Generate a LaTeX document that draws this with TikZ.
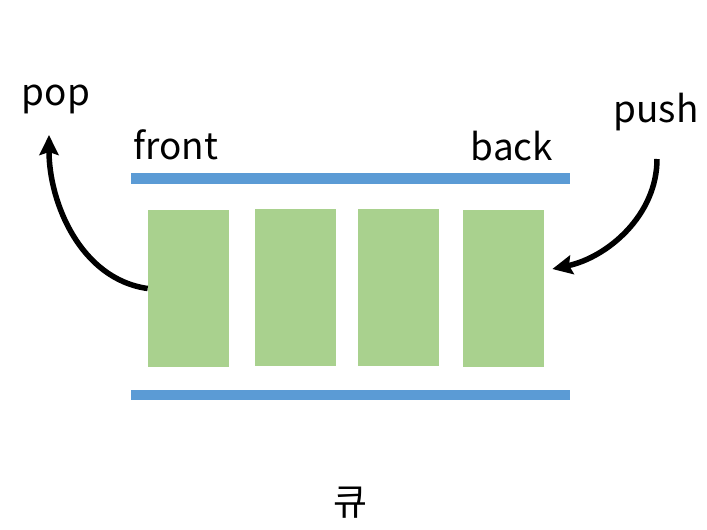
\documentclass[tikz,border=0pt]{standalone}
\usepackage{fontspec}
\setmainfont{Noto Sans CJK KR}
\usepackage{xcolor}
\usetikzlibrary{arrows.meta}
\definecolor{barblue}{HTML}{5B9BD5}
\definecolor{itemgreen}{HTML}{A9D18E}

\begin{document}
\begin{tikzpicture}[
    x=0.02cm, y=-0.02cm,
    bar/.style={fill=barblue, minimum width=8.78cm, minimum height=0.21cm, inner sep=0pt},
    item/.style={fill=itemgreen, minimum width=1.62cm, minimum height=3.14cm, inner sep=0pt},
    lbl/.style={anchor=base, inner sep=0pt, font=\fontsize{21}{25}\selectfont},
    arr/.style={-{Stealth[length=0.4cm, width=0.38cm, inset=0.06cm]}, line width=0.11cm}
]
\useasboundingbox (0,0) rectangle (707,529);

% Bars
\node[bar] (topbar) at (350.5,178.5) {};
\node[bar] (botbar) at (350.5,395) {};

% Queue items
\node[item] (q1) at (188.5,288.5) {};
\node[item] (q2) at (295.5,287.5) {};
\node[item] (q3) at (398.5,287.5) {};
\node[item] (q4) at (503.5,288.5) {};

% Labels
\node[lbl] (front) at (176,159) {front};
\node[lbl] (back) at (512,160) {back};
\node[lbl] (pop) at (56,105) {pop};
\node[lbl] (push) at (656,122) {push};
\node[lbl] (title) at (350,515) {큐};

% Arrow ends
\coordinate (popend) at ([xshift=-0.14cm, yshift=-0.6cm]pop.base);
\coordinate (pushstart) at ([xshift=0.02cm, yshift=-0.74cm]push.base);

% Pop and push arrows
\draw[arr] (q1.west) to[out=172, in=-90, looseness=0.95] (popend);
\draw[arr] (pushstart) to[out=-90, in=12, looseness=0.95] ([xshift=0.16cm, yshift=0.39cm]q4.east);
\end{tikzpicture}
\end{document}
